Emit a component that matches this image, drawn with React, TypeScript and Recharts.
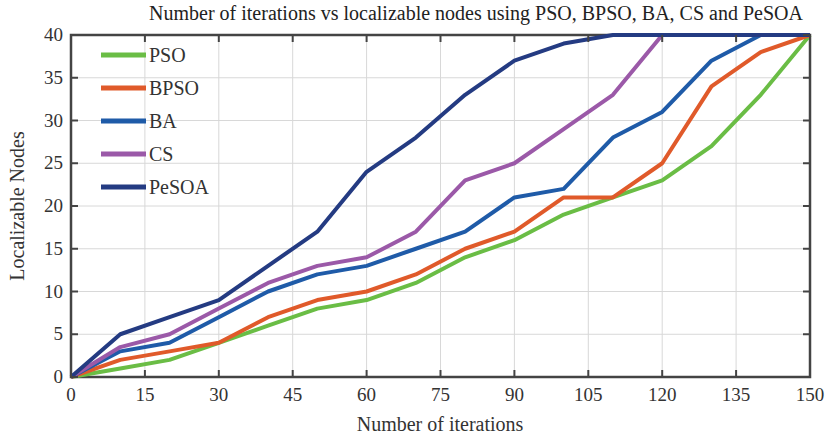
import { LineChart, Line, XAxis, YAxis, CartesianGrid } from "recharts";

const iterations = [0, 10, 20, 30, 40, 50, 60, 70, 80, 90, 100, 110, 120, 130, 140, 150];
const pso = [0, 1, 2, 4, 6, 8, 9, 11, 14, 16, 19, 21, 23, 27, 33, 40];
const bpso = [0, 2, 3, 4, 7, 9, 10, 12, 15, 17, 21, 21, 25, 34, 38, 40];
const ba = [0, 3, 4, 7, 10, 12, 13, 15, 17, 21, 22, 28, 31, 37, 40, 40];
const cs = [0, 3.5, 5, 8, 11, 13, 14, 17, 23, 25, 29, 33, 40, 40, 40, 40];
const pesoa = [0, 5, 7, 9, 13, 17, 24, 28, 33, 37, 39, 40, 40, 40, 40, 40];

const xTicks = [0, 15, 30, 45, 60, 75, 90, 105, 120, 135, 150];
const yTicks = [0, 5, 10, 15, 20, 25, 30, 35, 40];

const series = [
  { key: "PSO", values: pso, color: "#6abd45" },
  { key: "BPSO", values: bpso, color: "#e05a2a" },
  { key: "BA", values: ba, color: "#1f5ba8" },
  { key: "CS", values: cs, color: "#9b59a8" },
  { key: "PeSOA", values: pesoa, color: "#243b82" },
];

const data = iterations.map((it, i) => {
  const row: Record<string, number> = { it };
  series.forEach((s) => (row[s.key] = s.values[i]));
  return row;
});

const W = 826;
const H = 440;
const LEFT = 71;
const RIGHT = 810;
const TOP = 35;
const BOTTOM = 377;
const FONT = "'Liberation Serif', 'Times New Roman', serif";
const AXIS = "#444";
const TXT = "#333";

function XTick({ x, payload }: any) {
  return (
    <g>
      <line x1={x} x2={x} y1={BOTTOM} y2={BOTTOM - 7} stroke={AXIS} strokeWidth={2} />
      <line x1={x} x2={x} y1={TOP} y2={TOP + 7} stroke={AXIS} strokeWidth={2} />
      <text x={x} y={BOTTOM + 24} textAnchor="middle" fontSize={19} fontFamily={FONT} fill={TXT}>
        {payload.value}
      </text>
    </g>
  );
}

function YTick({ y, payload }: any) {
  return (
    <g>
      <line x1={LEFT} x2={LEFT + 7} y1={y} y2={y} stroke={AXIS} strokeWidth={2} />
      <line x1={RIGHT} x2={RIGHT - 7} y1={y} y2={y} stroke={AXIS} strokeWidth={2} />
      <text x={LEFT - 8} y={y + 6} textAnchor="end" fontSize={19} fontFamily={FONT} fill={TXT}>
        {payload.value}
      </text>
    </g>
  );
}

export default function App() {
  return (
    <div style={{ position: "absolute", left: 0, top: 0, width: W, height: H, background: "#fff" }}>
      <LineChart
        width={W}
        height={H}
        data={data}
        margin={{ top: TOP, right: W - RIGHT, bottom: 33, left: 0 }}
      >
        <CartesianGrid stroke="#d8d8d8" strokeWidth={1} />
        <XAxis
          dataKey="it"
          type="number"
          domain={[0, 150]}
          ticks={xTicks}
          height={30}
          tickLine={false}
          axisLine={false}
          tick={<XTick />}
          interval={0}
        />
        <YAxis
          type="number"
          domain={[0, 40]}
          ticks={yTicks}
          width={LEFT}
          tickLine={false}
          axisLine={false}
          tick={<YTick />}
          interval={0}
        />
        {series.map((s) => (
          <Line
            key={s.key}
            dataKey={s.key}
            stroke={s.color}
            strokeWidth={4}
            dot={false}
            isAnimationActive={false}
            strokeLinejoin="round"
          />
        ))}
        <rect x={LEFT} y={TOP} width={RIGHT - LEFT} height={BOTTOM - TOP} fill="none" stroke={AXIS} strokeWidth={2.5} />
        <g transform="translate(101 55)">
          {series.map((s, i) => (
            <g key={s.key}>
              <line x1={0} x2={45} y1={i * 33} y2={i * 33} stroke={s.color} strokeWidth={5} />
              <text x={48} y={i * 33 + 7} fontSize={20} fontFamily={FONT} fill={TXT}>
                {s.key}
              </text>
            </g>
          ))}
        </g>
        <text x={476} y={20} textAnchor="middle" fontSize={20} fontFamily={FONT} fill="#222">
          Number of iterations vs localizable nodes using PSO, BPSO, BA, CS and PeSOA
        </text>
        <text x={440} y={431} textAnchor="middle" fontSize={20} fontFamily={FONT} fill={TXT}>
          Number of iterations
        </text>
        <text
          x={24}
          y={206}
          textAnchor="middle"
          fontSize={20}
          fontFamily={FONT}
          fill={TXT}
          transform="rotate(-90 24 206)"
        >
          Localizable Nodes
        </text>
      </LineChart>
    </div>
  );
}
